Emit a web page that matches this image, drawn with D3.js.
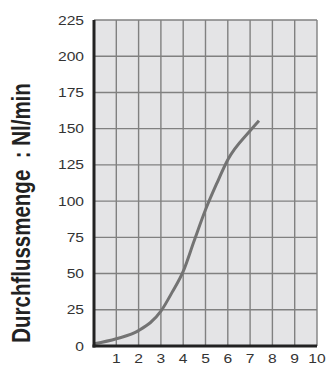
<!DOCTYPE html>
<html>
<head>
<meta charset="utf-8">
<script src="https://cdn.jsdelivr.net/npm/d3@7"></script>
<style>
  html, body { margin: 0; padding: 0; background: #fff; }
  svg { display: block; font-family: "Liberation Sans", Arial, sans-serif; }
</style>
</head>
<body>
<div id="chart"></div>
<script>
// Data
const pressure = [0, 1, 2, 3, 3.5, 4, 4.5, 5, 5.5, 6, 7, 7.4];
const flow = [1.5, 5, 10.6, 24, 37, 51.5, 73, 94, 112, 128.5, 148.5, 155.5];
const xTicks = [1, 2, 3, 4, 5, 6, 7, 8, 9, 10];
const yTicks = [0, 25, 50, 75, 100, 125, 150, 175, 200, 225];

const width = 331;
const height = 367;
const margin = { top: 20, right: 14, bottom: 21, left: 94 };
const stretch = 1.22; // the source text looks widened

const svg = d3.select("#chart")
    .append("svg")
    .attr("width", width)
    .attr("height", height);

const x = d3.scaleLinear().domain([0, 10]).range([margin.left, width - margin.right]);
const y = d3.scaleLinear().domain([0, 225]).range([height - margin.bottom, margin.top]);

// plot background
svg.append("rect")
    .attr("x", x(0))
    .attr("y", y(225))
    .attr("width", x(10) - x(0))
    .attr("height", y(0) - y(225))
    .attr("fill", "#e4e4e6");

// grid
svg.append("g")
    .selectAll("line")
    .data(xTicks)
    .join("line")
    .attr("x1", d => x(d)).attr("x2", d => x(d))
    .attr("y1", y(225)).attr("y2", y(0))
    .attr("stroke", "#808080")
    .attr("stroke-width", 1.4);

svg.append("g")
    .selectAll("line")
    .data(yTicks.filter(d => d > 0))
    .join("line")
    .attr("x1", x(0)).attr("x2", x(10))
    .attr("y1", d => y(d)).attr("y2", d => y(d))
    .attr("stroke", "#808080")
    .attr("stroke-width", 1.4);

// curve
const line = d3.line()
    .x((d, i) => x(pressure[i]))
    .y(d => y(d))
    .curve(d3.curveMonotoneX);

svg.append("path")
    .datum(flow)
    .attr("d", line)
    .attr("fill", "none")
    .attr("stroke", "#737373")
    .attr("stroke-width", 3);

// axes
svg.append("line")
    .attr("x1", x(0)).attr("x2", x(0))
    .attr("y1", y(225)).attr("y2", y(0) + 1.5)
    .attr("stroke", "#222")
    .attr("stroke-width", 3);

svg.append("line")
    .attr("x1", x(0) - 1.5).attr("x2", x(10))
    .attr("y1", y(0)).attr("y2", y(0))
    .attr("stroke", "#222")
    .attr("stroke-width", 3);

// tick labels
svg.append("g")
    .selectAll("text")
    .data(yTicks)
    .join("text")
    .attr("transform", d => `translate(${x(0) - 10},${y(d) + 4.5}) scale(${stretch},1)`)
    .attr("text-anchor", "end")
    .attr("font-size", 12.8)
    .attr("fill", "#333")
    .text(d => d);

svg.append("g")
    .selectAll("text")
    .data(xTicks)
    .join("text")
    .attr("transform", d => `translate(${x(d)},${y(0) + 16.5}) scale(${stretch},1)`)
    .attr("text-anchor", "middle")
    .attr("font-size", 12.8)
    .attr("fill", "#333")
    .text(d => d);

// y axis title
svg.append("text")
    .attr("transform", `translate(30, 213) scale(${stretch},1) rotate(-90)`)
    .attr("text-anchor", "middle")
    .attr("font-size", 20.5)
    .attr("font-weight", "bold")
    .attr("fill", "#222")
    .attr("xml:space", "preserve")
    .text("Durchflussmenge  : Nl/min");
</script>
</body>
</html>
